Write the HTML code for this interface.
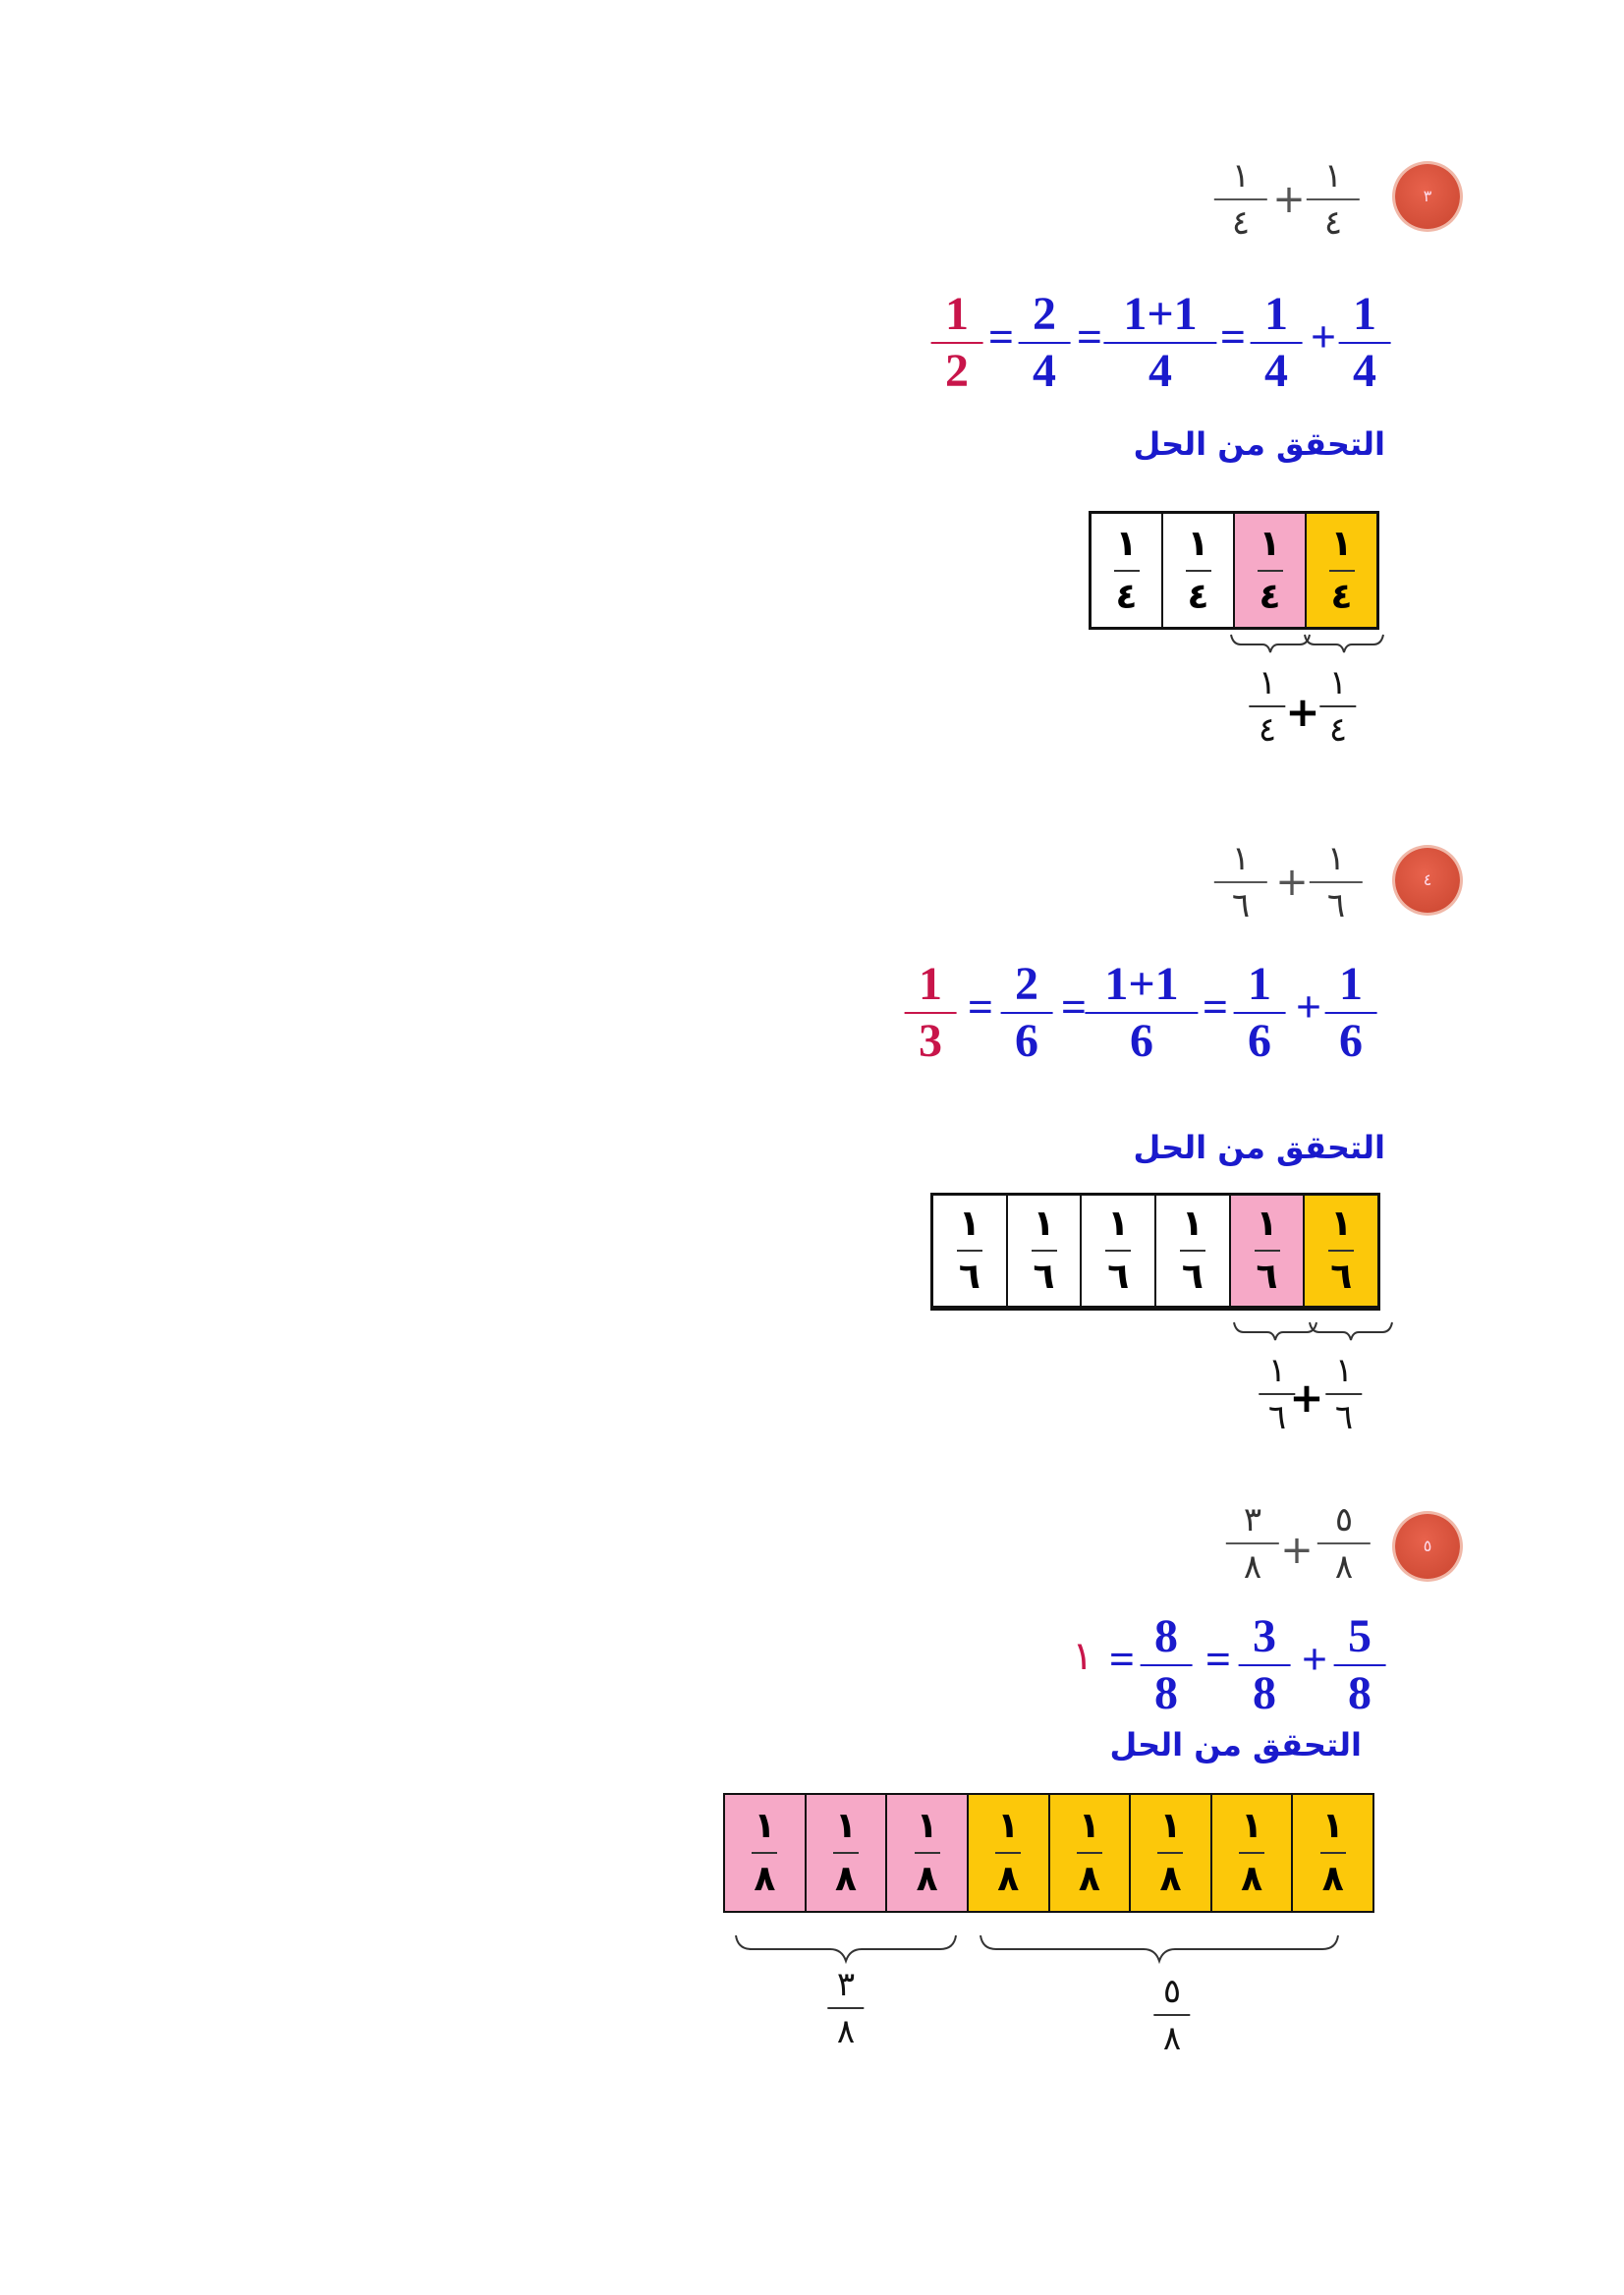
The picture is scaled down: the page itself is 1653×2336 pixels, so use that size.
<!DOCTYPE html>
<html><head><meta charset="utf-8">
<style>
body{margin:0;background:#fff;}
#p{position:relative;width:1653px;height:2336px;overflow:hidden;background:#fff;font-family:"Liberation Serif","Noto Sans CJK SC",serif;}
.f{position:absolute;transform:translateX(-50%);display:flex;flex-direction:column;align-items:center;line-height:1;}
.f i{display:block;height:3px;width:1.05em;background:currentColor;margin:3px 0;}
.eq .f{font-size:48px;font-weight:bold;color:#1a1acc;}
.eq .f i{width:1.1em;height:2px;margin:4px 0;}
.r{color:#c8154a!important;}
.op{position:absolute;transform:translateX(-50%);font-weight:bold;color:#1a1acc;font-size:46px;line-height:1;}
.g .f{font-size:34px;color:#333;font-family:"DejaVu Sans",sans-serif;}
.g .f i{height:2px;width:1.6em;background:#555;margin:6px 0;}
.gop{position:absolute;transform:translateX(-50%);font-size:40px;color:#555;line-height:1;font-family:"DejaVu Sans",sans-serif;}
.c{position:absolute;width:66px;height:66px;border-radius:50%;background:radial-gradient(circle at 45% 40%,#e8624c,#c9452f);box-shadow:0 0 0 3px #f0b8a8;color:#fde;font-size:16px;text-align:center;line-height:66px;font-family:"DejaVu Sans",sans-serif;}
.lbl{position:absolute;font-family:"DejaVu Sans",sans-serif;font-weight:bold;color:#1a1acc;font-size:32px;line-height:1;direction:rtl;white-space:nowrap;}
.box{position:absolute;display:flex;border:3px solid #111;box-sizing:border-box;}
.box div{flex:1;border-left:2px solid #111;display:flex;flex-direction:column;align-items:center;justify-content:center;font-family:"DejaVu Sans",sans-serif;font-weight:bold;font-size:36px;line-height:1;color:#000;}
.box div:first-child{border-left:none;}
.box div i{display:block;width:26px;height:2px;background:#333;margin:8px 0;}
.pk{background:#f6a9c7;}
.yl{background:#fcc80a;}
.b .f{font-size:34px;color:#111;font-family:"DejaVu Sans",sans-serif;}
.b .f i{height:2px;width:1.1em;background:#333;margin:6px 0;}
.bop{position:absolute;transform:translateX(-50%);font-size:42px;font-weight:bold;line-height:1;font-family:"DejaVu Sans",sans-serif;}
</style></head><body><div id="p">

<!-- Section 1 -->
<div class="c" style="left:1420px;top:167px">٣</div>
<div class="g">
<div class="f" style="left:1263px;top:162px"><span>١</span><i></i><span>٤</span></div>
<div class="gop" style="left:1312px;top:183px">+</div>
<div class="f" style="left:1357px;top:162px"><span>١</span><i></i><span>٤</span></div>
</div>
<div class="eq">
<div class="f r" style="left:974px;top:296px"><span>1</span><i></i><span>2</span></div>
<div class="op" style="left:1019px;top:320px">=</div>
<div class="f" style="left:1063px;top:296px"><span>2</span><i></i><span>4</span></div>
<div class="op" style="left:1109px;top:320px">=</div>
<div class="f" style="left:1181px;top:296px"><span>1+1</span><i style="width:2.4em"></i><span>4</span></div>
<div class="op" style="left:1255px;top:320px">=</div>
<div class="f" style="left:1299px;top:296px"><span>1</span><i></i><span>4</span></div>
<div class="op" style="left:1347px;top:320px">+</div>
<div class="f" style="left:1389px;top:296px"><span>1</span><i></i><span>4</span></div>
</div>
<div class="lbl" style="right:243px;top:436px">التحقق من الحل</div>
<div class="box" style="left:1108px;top:520px;width:296px;height:121px">
<div><span>١</span><i></i><span>٤</span></div>
<div><span>١</span><i></i><span>٤</span></div>
<div class="pk"><span>١</span><i></i><span>٤</span></div>
<div class="yl"><span>١</span><i></i><span>٤</span></div>
</div>
<svg style="position:absolute;left:0;top:0" width="1653" height="2336">
<g fill="none" stroke="#333" stroke-width="2">
<path d="M1253 646 q2 10 10 10 h22 q6 0 8 8 q2 -8 8 -8 h22 q8 0 10 -10"/>
<path d="M1328 646 q2 10 10 10 h22 q6 0 8 8 q2 -8 8 -8 h22 q8 0 10 -10"/>
<path d="M1256 1346 q2 10 10 10 h24 q6 0 8 8 q2 -8 8 -8 h24 q8 0 10 -10"/>
<path d="M1333 1346 q2 10 10 10 h24 q6 0 8 8 q2 -8 8 -8 h24 q8 0 10 -10"/>
<path d="M749 1970 q2 14 16 14 h80 q12 0 16 12 q4 -12 16 -12 h80 q14 0 16 -14"/>
<path d="M998 1970 q2 14 16 14 h150 q12 0 16 12 q4 -12 16 -12 h150 q14 0 16 -14"/>
</g></svg>
<div class="b">
<div class="f" style="left:1290px;top:678px"><span>١</span><i></i><span>٤</span></div>
<div class="bop" style="left:1326px;top:704px">+</div>
<div class="f" style="left:1362px;top:678px"><span>١</span><i></i><span>٤</span></div>
</div>

<!-- Section 2 -->
<div class="c" style="left:1420px;top:863px">٤</div>
<div class="g">
<div class="f" style="left:1263px;top:857px"><span>١</span><i></i><span>٦</span></div>
<div class="gop" style="left:1315px;top:878px">+</div>
<div class="f" style="left:1360px;top:857px"><span>١</span><i></i><span>٦</span></div>
</div>
<div class="eq">
<div class="f r" style="left:947px;top:978px"><span>1</span><i></i><span>3</span></div>
<div class="op" style="left:998px;top:1002px">=</div>
<div class="f" style="left:1045px;top:978px"><span>2</span><i></i><span>6</span></div>
<div class="op" style="left:1093px;top:1002px">=</div>
<div class="f" style="left:1162px;top:978px"><span>1+1</span><i style="width:2.4em"></i><span>6</span></div>
<div class="op" style="left:1237px;top:1002px">=</div>
<div class="f" style="left:1282px;top:978px"><span>1</span><i></i><span>6</span></div>
<div class="op" style="left:1332px;top:1002px">+</div>
<div class="f" style="left:1375px;top:978px"><span>1</span><i></i><span>6</span></div>
</div>
<div class="lbl" style="right:243px;top:1152px">التحقق من الحل</div>
<div class="box" style="left:947px;top:1214px;width:458px;height:120px;border-bottom-width:5px">
<div><span>١</span><i></i><span>٦</span></div>
<div><span>١</span><i></i><span>٦</span></div>
<div><span>١</span><i></i><span>٦</span></div>
<div><span>١</span><i></i><span>٦</span></div>
<div class="pk"><span>١</span><i></i><span>٦</span></div>
<div class="yl"><span>١</span><i></i><span>٦</span></div>
</div>
<div class="b">
<div class="f" style="left:1300px;top:1378px"><span>١</span><i></i><span>٦</span></div>
<div class="bop" style="left:1330px;top:1402px">+</div>
<div class="f" style="left:1368px;top:1378px"><span>١</span><i></i><span>٦</span></div>
</div>

<!-- Section 3 -->
<div class="c" style="left:1420px;top:1541px">٥</div>
<div class="g">
<div class="f" style="left:1275px;top:1530px"><span>٣</span><i></i><span>٨</span></div>
<div class="gop" style="left:1320px;top:1558px">+</div>
<div class="f" style="left:1368px;top:1530px"><span>٥</span><i></i><span>٨</span></div>
</div>
<div class="eq">
<div class="op r" style="left:1102px;top:1666px;font-weight:normal;font-size:40px;font-family:'DejaVu Sans',sans-serif">١</div>
<div class="op" style="left:1142px;top:1666px">=</div>
<div class="f" style="left:1187px;top:1642px"><span>8</span><i></i><span>8</span></div>
<div class="op" style="left:1240px;top:1666px">=</div>
<div class="f" style="left:1287px;top:1642px"><span>3</span><i></i><span>8</span></div>
<div class="op" style="left:1338px;top:1666px">+</div>
<div class="f" style="left:1384px;top:1642px"><span>5</span><i></i><span>8</span></div>
</div>
<div class="lbl" style="right:267px;top:1760px">التحقق من الحل</div>
<div class="box" style="left:736px;top:1825px;width:663px;height:122px;border-width:2px">
<div class="pk"><span>١</span><i></i><span>٨</span></div>
<div class="pk"><span>١</span><i></i><span>٨</span></div>
<div class="pk"><span>١</span><i></i><span>٨</span></div>
<div class="yl"><span>١</span><i></i><span>٨</span></div>
<div class="yl"><span>١</span><i></i><span>٨</span></div>
<div class="yl"><span>١</span><i></i><span>٨</span></div>
<div class="yl"><span>١</span><i></i><span>٨</span></div>
<div class="yl"><span>١</span><i></i><span>٨</span></div>
</div>
<div class="b">
<div class="f" style="left:861px;top:2003px"><span>٣</span><i></i><span>٨</span></div>
<div class="f" style="left:1193px;top:2010px;font-weight:normal"><span>٥</span><i></i><span>٨</span></div>
</div>

</div></body></html>
